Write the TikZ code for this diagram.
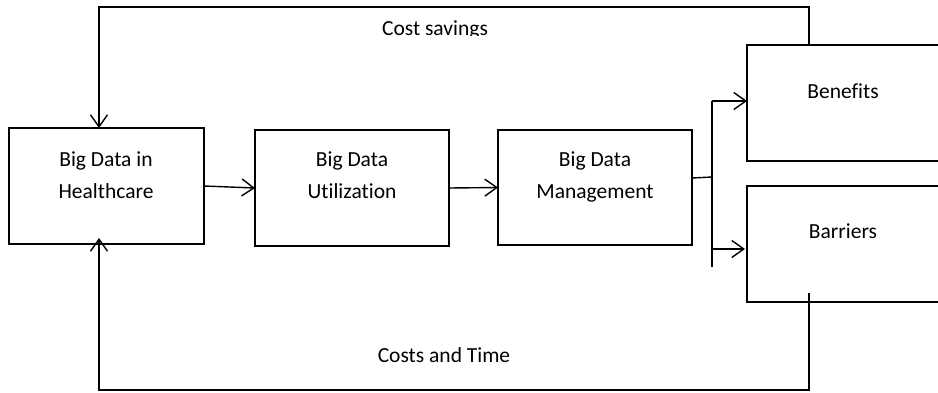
\documentclass[tikz,border=0pt]{standalone}
\usepackage{fontspec}
\setmainfont{Carlito}[Ligatures=NoCommon]
\usetikzlibrary{arrows.meta}
\tikzset{
  box/.style={draw, line width=1.4pt, inner sep=0pt, outer sep=0pt},
  lbl/.style={inner sep=0pt, anchor=base, font=\fontsize{21.5}{32}\selectfont},
  conn/.style={line width=1.4pt},
  arr/.style={conn, -{Straight Barb[length=12pt,width=17pt,line width=1.4pt]}}
}
\begin{document}
\begin{tikzpicture}[x=1pt,y=-1pt]
\useasboundingbox (0,0) rectangle (938,392);
\clip (0,0) rectangle (938,392);
% boxes
\node[box, minimum width=195pt, minimum height=116pt] (b1) at (106.5,186) {};
\node[box, minimum width=194pt, minimum height=116pt] (b2) at (352,188) {};
\node[box, minimum width=194pt, minimum height=115pt] (b3) at (595,187.5) {};
\node[box, minimum width=195pt, minimum height=116pt] (ben) at (844.5,103) {};
\node[box, minimum width=195pt, minimum height=116pt] (bar) at (844.5,244) {};
% labels
\node[lbl] (b1a) at (106,166) {Big Data in};
\node[lbl] (b1b) at (106,198) {Healthcare};
\node[lbl] (b2a) at (352,166) {Big Data};
\node[lbl] (b2b) at (352,198) {Utilization};
\node[lbl] (b3a) at (595,166) {Big Data};
\node[lbl] (b3b) at (595,198) {Management};
\node[lbl] (bena) at (843,98) {Benefits};
\node[lbl] (bara) at (843,238) {Barriers};
\begin{scope}
\clip (300,0) rectangle (600,35.5);
\node[lbl] (cs) at (435,35) {Cost savings};
\end{scope}
\node[lbl] (ct) at (444,362) {Costs and Time};
% branch
\coordinate (j) at (712,177);
\coordinate (jt) at (712,101);
\coordinate (jb) at (712,267);
\draw[conn] (b3.east |- 0,178) -- (j);
\draw[conn] (jt) -- (jb);
\draw[arr] (jt) -- (ben.west |- jt);
\draw[arr] (712,249) coordinate (jb2) -- ([xshift=-2pt]bar.west |- jb2);
% main flow
\draw[arr] (b1.east) -- (b2.west);
\draw[arr] (b2.east) -- (b3.west);
% top loop
\draw[arr] (809,45) coordinate (t0) -- (809,7) -- (99,7) -- (99,128) coordinate (t1);
% bottom loop
\draw[arr] (809,293) coordinate (u0) -- (809,390) -- (99,390) -- (99,238) coordinate (u1);
\end{tikzpicture}
\end{document}
